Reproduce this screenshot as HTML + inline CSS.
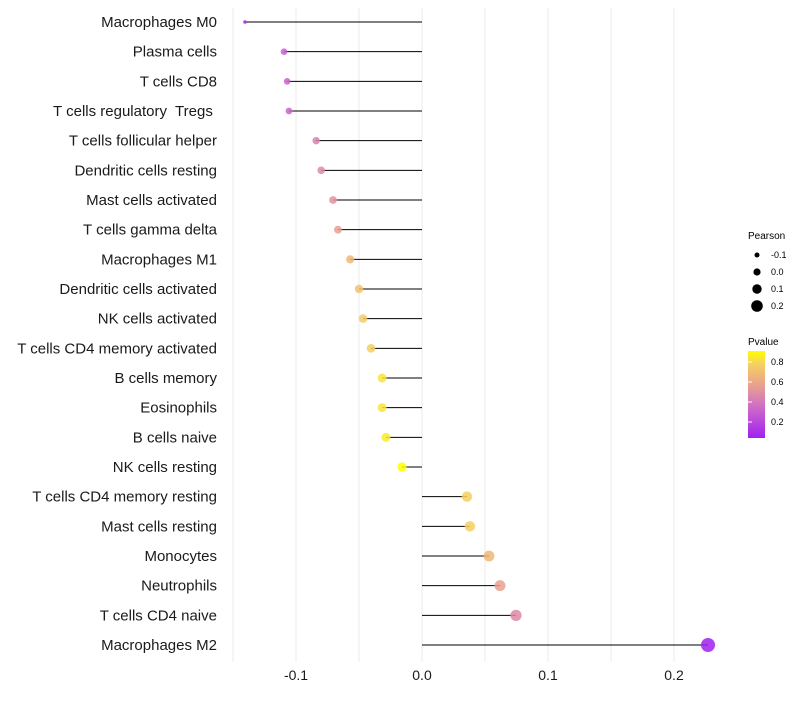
<!DOCTYPE html>
<html><head><meta charset="utf-8"><style>
body{margin:0;background:#fff;font-family:"Liberation Sans",sans-serif}
text{white-space:pre}
</style></head><body>
<svg id="chart" width="800" height="700" xmlns="http://www.w3.org/2000/svg">
<g id="grid"></g><g id="marks"></g><g id="labels"></g><g id="ticks"></g>
<g id="legend">
 <text x="748" y="239" font-size="10">Pearson</text>
 <text x="748" y="345" font-size="10">Pvalue</text>
 <defs><linearGradient id="pg" x1="0" y1="1" x2="0" y2="0">
  <stop offset="0" stop-color="#a020f0"/><stop offset="0.33" stop-color="#cc66cc"/><stop offset="0.6" stop-color="#e8a090"/><stop offset="0.85" stop-color="#f5d060"/><stop offset="1" stop-color="#ffff00"/></linearGradient></defs>
 <rect x="748" y="351" width="17" height="87" fill="url(#pg)"/>
</g>
</svg>
<script>
const categories=["Macrophages M0","Plasma cells","T cells CD8","T cells regulatory  Tregs ","T cells follicular helper","Dendritic cells resting","Mast cells activated","T cells gamma delta","Macrophages M1","Dendritic cells activated","NK cells activated","T cells CD4 memory activated","B cells memory","Eosinophils","B cells naive","NK cells resting","T cells CD4 memory resting","Mast cells resting","Monocytes","Neutrophils","T cells CD4 naive","Macrophages M2"];
const pearson=[-0.1405,-0.1095,-0.107,-0.1056,-0.084,-0.080,-0.0706,-0.0667,-0.057,-0.050,-0.0468,-0.0405,-0.0317,-0.0317,-0.0286,-0.0159,0.0357,0.038,0.0532,0.0619,0.0746,0.227];
const pvalue=[0.08,0.32,0.33,0.34,0.46,0.5,0.55,0.6,0.7,0.75,0.78,0.8,0.85,0.85,0.87,0.95,0.8,0.8,0.7,0.6,0.5,0.02];
const xTicks=[-0.1,0.0,0.1,0.2];
const xTickLabels=["-0.1","0.0","0.1","0.2"];
const sizeLegend=[-0.1,0.0,0.1,0.2];
const colorLegend=[0.2,0.4,0.6,0.8];
const NS="http://www.w3.org/2000/svg";
const xs=v=>422+v*1260;
const ys=i=>22+i*(623/21);
const pMin=Math.min(...pearson),pMax=Math.max(...pearson);
const rs=v=>{const t=Math.max(0,(v-pMin)/(pMax-pMin));return t===0?1.8:Math.sqrt(7.4+41.6*t);};
const stops=[[0.05,[160,32,240]],[0.35,[204,102,204]],[0.6,[232,160,144]],[0.8,[245,208,96]],[0.92,[255,255,0]]];
function col(p){if(p<=stops[0][0])return `rgb(${stops[0][1]})`;for(let i=1;i<stops.length;i++){if(p<=stops[i][0]){const a=stops[i-1],b=stops[i],t=(p-a[0])/(b[0]-a[0]);return `rgb(${a[1].map((c,k)=>Math.round(c+(b[1][k]-c)*t))})`;}}return 'rgb(255,255,0)';}
function mk(tag,attrs,parent){const e=document.createElementNS(NS,tag);for(const k in attrs)e.setAttribute(k,attrs[k]);document.getElementById(parent).appendChild(e);return e;}
[-0.15,-0.1,-0.05,0,0.05,0.1,0.15,0.2].forEach(v=>{const g=mk('line',{x1:xs(v),x2:xs(v),y1:8,y2:662,stroke:'#ebebeb','stroke-width':1},'grid');

});
categories.forEach((c,i)=>{
 const l=mk('line',{x1:xs(0),x2:xs(pearson[i]),y1:ys(i),y2:ys(i),stroke:'#000','stroke-width':1},'marks');
 
 
 const p=mk('circle',{cx:xs(pearson[i]),cy:ys(i),r:rs(pearson[i]),fill:col(pvalue[i]),'fill-opacity':0.85},'marks');
 
 
 const t=mk('text',{x:217,y:ys(i)+5,'text-anchor':'end','font-size':15,fill:'#1a1a1a'},'labels');t.textContent=c;
 
 
});
xTicks.forEach((v,i)=>{const t=mk('text',{x:xs(v),y:680,'text-anchor':'middle','font-size':14,fill:'#1a1a1a'},'ticks');t.textContent=xTickLabels[i];

});
sizeLegend.forEach((v,i)=>{const y=255+i*17;const c=mk('circle',{cx:757,cy:y,r:2.5+i*1.1,fill:'#000'},'legend');


const t=mk('text',{x:771,y:y+3,'font-size':9},'legend');t.textContent=v.toFixed(1);

});
colorLegend.forEach(v=>{const y=442-v*100;const t=mk('text',{x:771,y:y+3,'font-size':9},'legend');t.textContent=v.toFixed(1);


const tk=mk('line',{x1:748,x2:752,y1:y,y2:y,stroke:'#fff'},'legend');

});
</script>
</body></html>
